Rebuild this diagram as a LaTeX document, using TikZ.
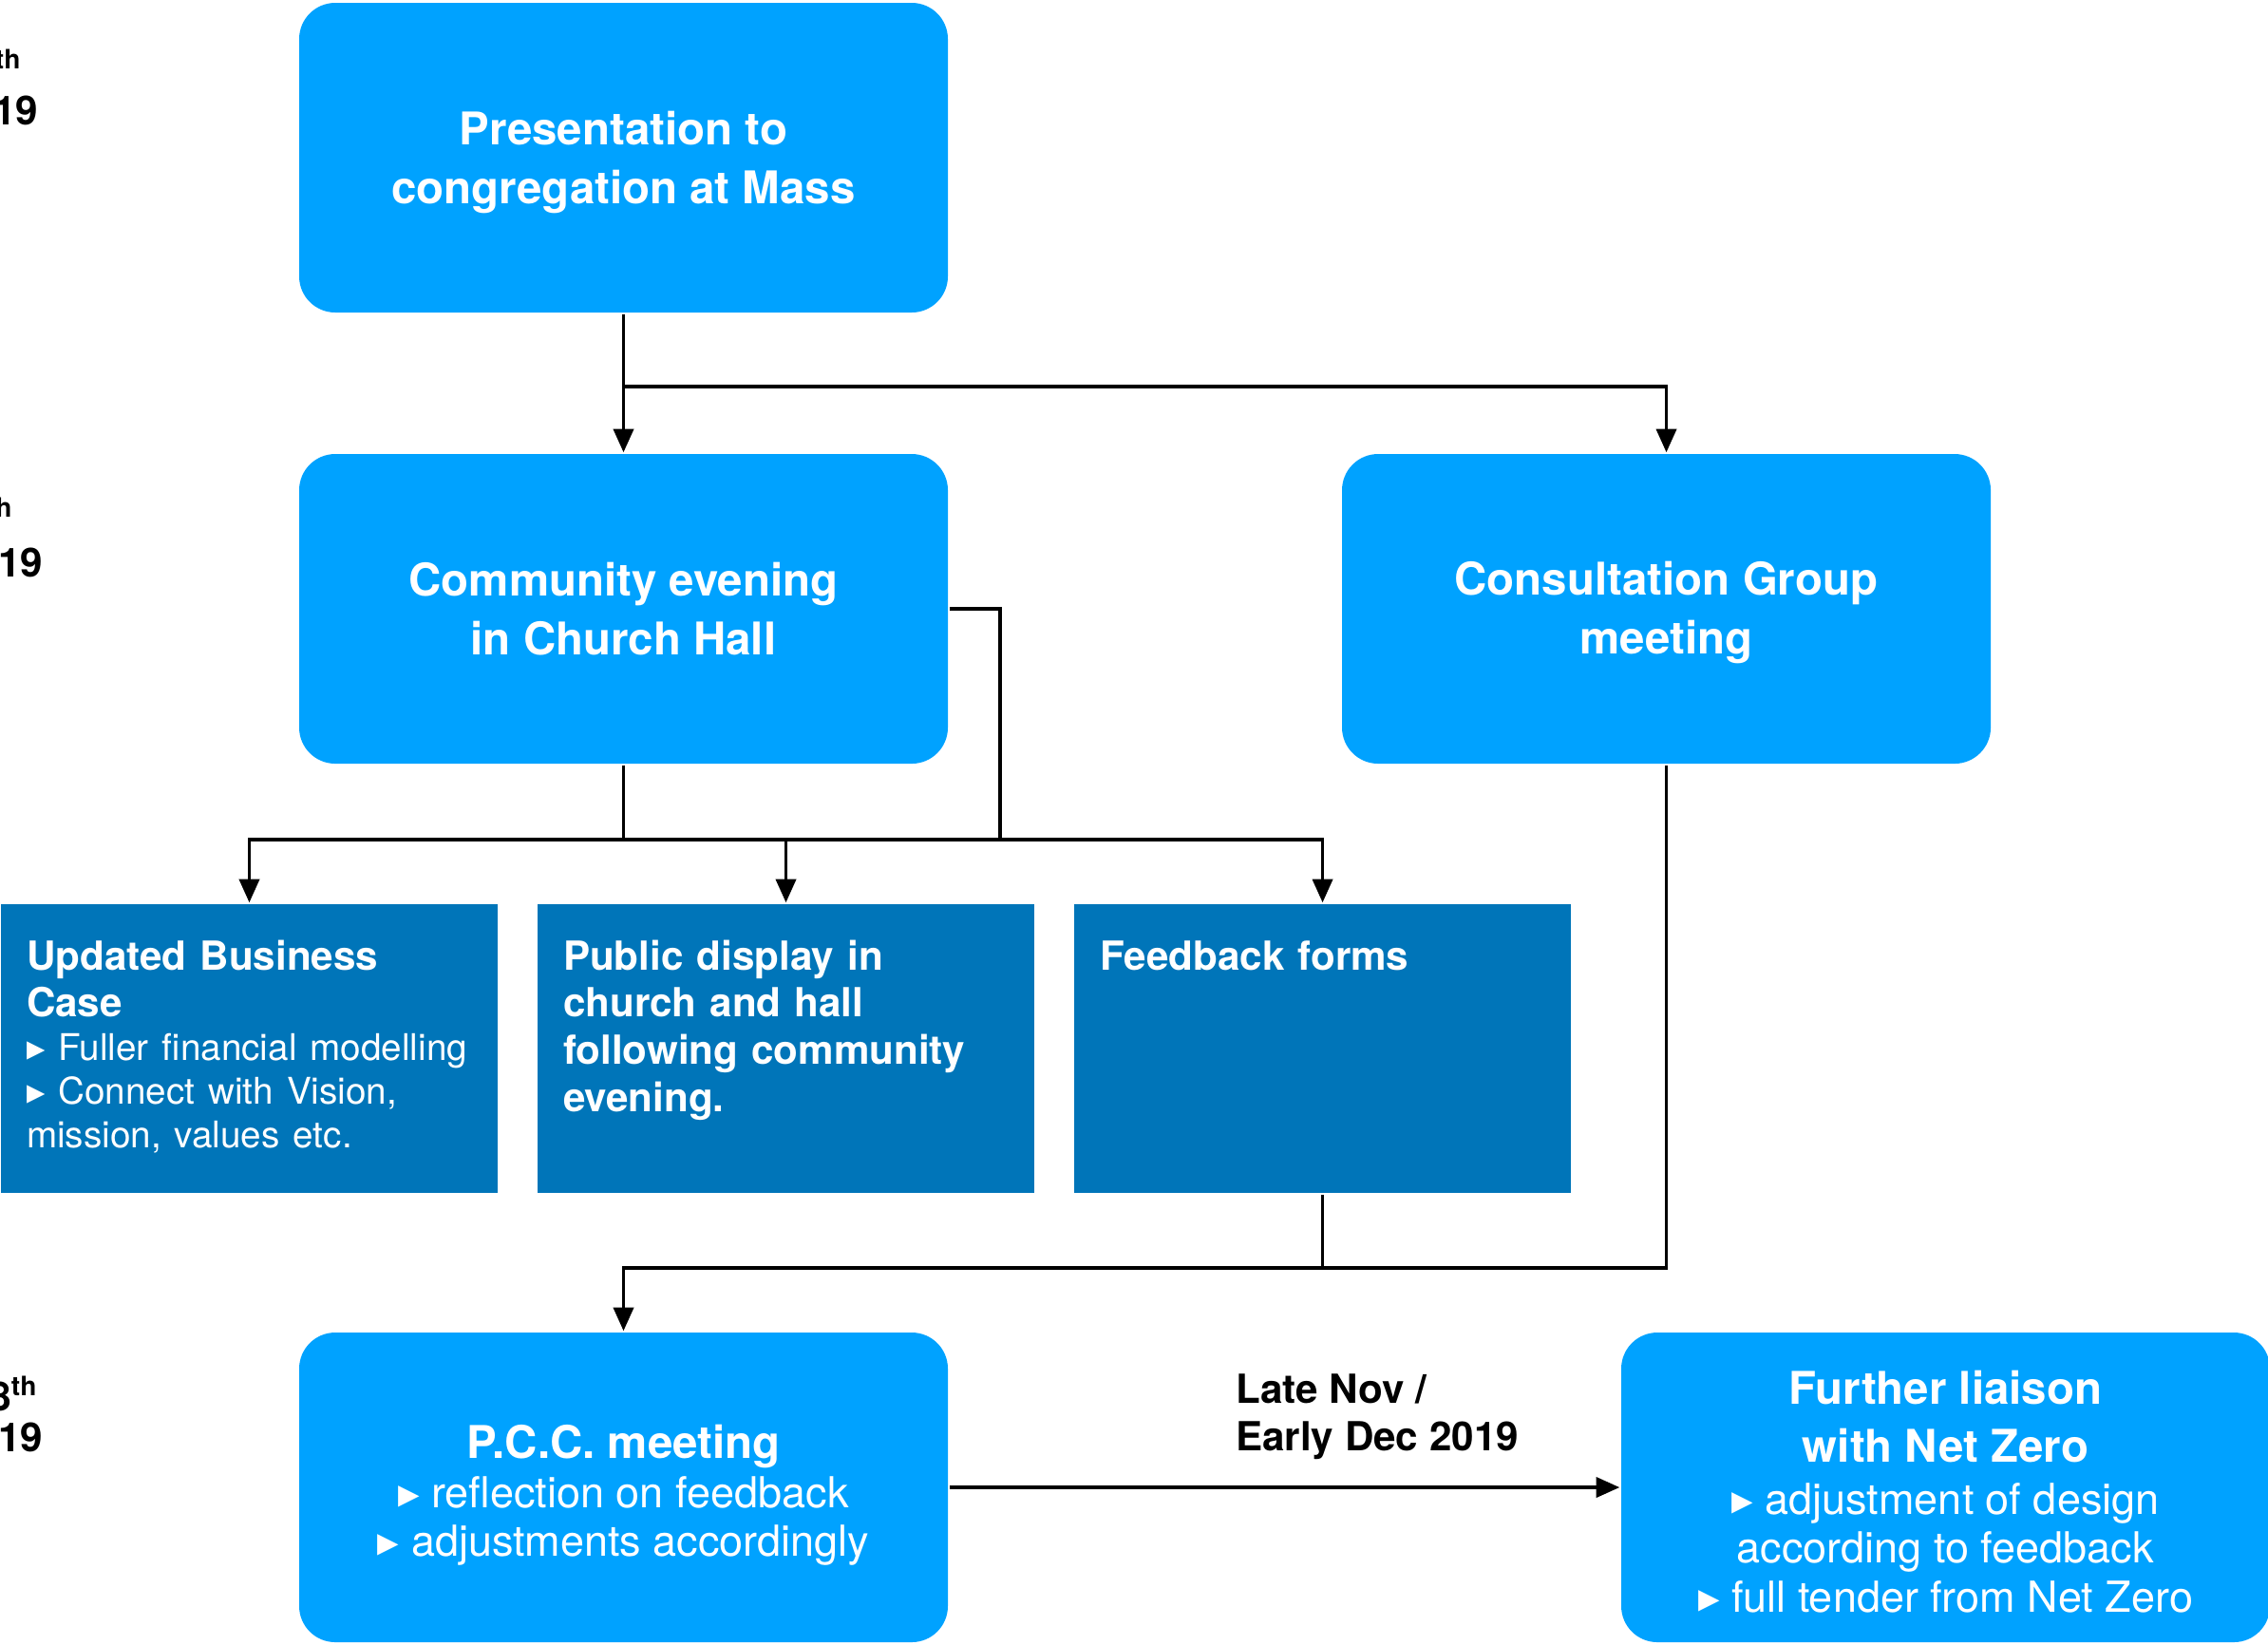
\documentclass[tikz,border=0pt]{standalone}
\usepackage{fontspec}
\setmainfont{TeX Gyre Heros}
\newfontfamily\symfont{DejaVu Sans}
\usetikzlibrary{positioning, arrows.meta}
\definecolor{lightblue}{HTML}{00A2FF}
\definecolor{darkblue}{HTML}{0075B9}
\newcommand{\bul}{{\symfont ▸}\ }

\begin{document}
\begin{tikzpicture}[line width=1pt, >={Triangle[width=6pt,length=7pt]},
    roundbox/.style={fill=lightblue, text=white, rounded corners=0.38cm,
        minimum width=6.83cm, minimum height=3.26cm, align=center,
        font=\fontsize{13.5}{17.6}\selectfont\bfseries},
    bulletbox/.style={roundbox, font=\fontsize{12.8}{14.7}\selectfont},
    darkbox/.style={fill=darkblue, text=white, text width=4.69cm, align=left,
        inner xsep=0.27cm, inner ysep=0.25cm, text height=0.44cm, text depth=2.10cm,
        font=\fontsize{12}{14.2}\selectfont\bfseries},
    datetext/.style={font=\fontsize{12}{14}\selectfont\bfseries, anchor=base east, inner sep=0pt}]
        \useasboundingbox (0,0) rectangle (23.88,-17.31);

        % dates down the left edge
        \node[datetext] (date 1a) at (0.25,-0.88)  {\textsuperscript{th}};
        \node[datetext] (date 1b) at (0.42,-1.31)  {2019};
        \node[datetext] (date 2a) at (0.16,-5.60)  {\textsuperscript{th}};
        \node[datetext] (date 2b) at (0.47,-6.07)  {2019};
        \node[datetext] (date 3a) at (0.42,-14.85) {8\textsuperscript{th}};
        \node[datetext] (date 3b) at (0.47,-15.28) {2019};

        \node[roundbox] (presentation) at (6.565,-1.66) {\rule{0pt}{0.46cm}Presentation to\\congregation at Mass};
        \node[roundbox, below=1.455cm of presentation] (community) {Community evening\\in Church Hall};
        \node[roundbox, right=4.115cm of community]    (consultation) {\rule{0pt}{0.43cm}Consultation Group\\meeting};

        \node[darkbox] (business) at (2.625,-11.04) {Updated Business Case\par
            {\mdseries\fontsize{11}{13}\selectfont \bul Fuller financial modelling\\
            \bul Connect with Vision,\\ mission, values etc.\par}};
        \node[darkbox, right=0.385cm of business] (display) {Public display in\\church and hall\\following community\\evening.};
        \node[darkbox, right=0.385cm of display]  (forms)   {Feedback forms};

        \node[bulletbox] (pcc) at (6.565,-15.66) {\rule{0pt}{0.52cm}{\fontsize{13.5}{14.7}\selectfont\bfseries P.C.C. meeting}\\
            \bul reflection on feedback\\ \bul adjustments accordingly};
        \node[bulletbox, right=7.055cm of pcc] (liaison) {\rule{0pt}{0.45cm}{\bfseries\fontsize{13.5}{14.7}\selectfont Further liaison}\\[2.6pt]
            {\bfseries\fontsize{13.5}{14.7}\selectfont with Net Zero}\\[0.8pt]
            \bul adjustment of design\\ according to feedback\\ \bul full tender from Net Zero};

        \draw[->] (presentation) -- (community);
        \draw[->] (presentation.south) -- ++(0,-0.76) -| (consultation);
        \draw[->] (community.south) -- ++(0,-0.78) -| (business);
        \draw[->] (community.south) -- ++(0,-0.78) -| (display);
        \draw[->] (community.south) -- ++(0,-0.78) -| (forms);
        \draw (community.east) -- ++(0.53,0) -- ++(0,-2.41);
        \draw (forms.south) -- ++(0,-0.77);
        \draw[->] (consultation.south) -- ++(0,-5.29) -| (pcc);
        \draw[->] (pcc) -- node[pos=0.425, anchor=south west, inner sep=0pt, yshift=0.275cm, align=left,
            font=\fontsize{12}{14.2}\selectfont\bfseries] (timing) {Late Nov /\\Early Dec 2019} (liaison);
    \end{tikzpicture}
\end{document}
